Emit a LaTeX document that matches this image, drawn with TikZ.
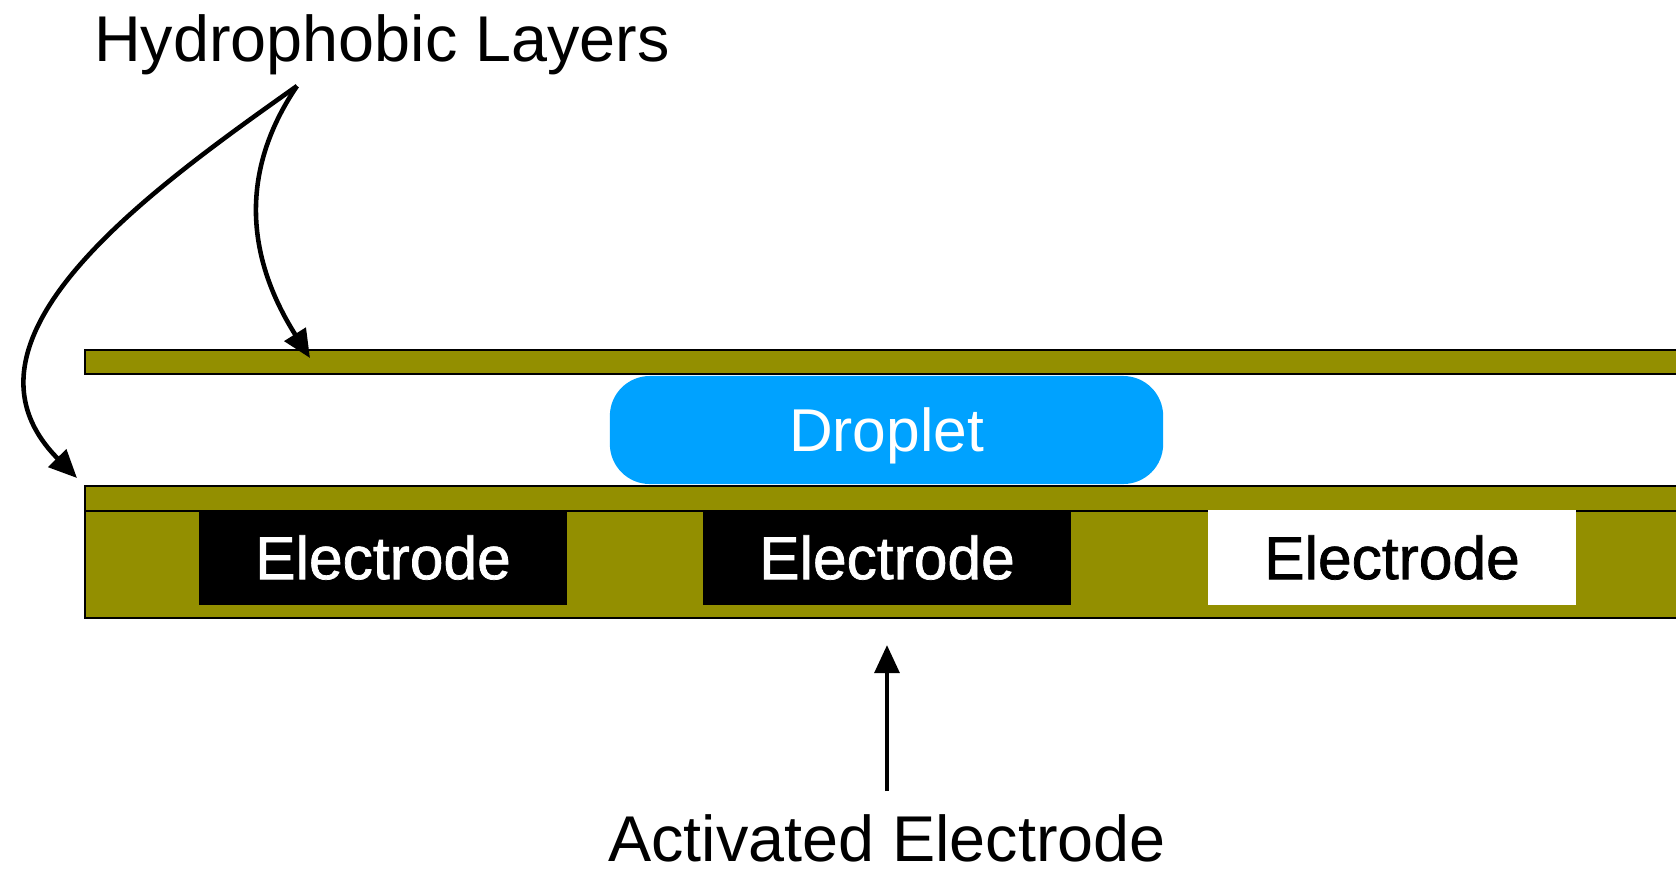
\documentclass[tikz,border=0pt]{standalone}
\usepackage{fontspec}
\setmainfont{Liberation Sans}
\newfontfamily\medfont[FakeBold=1.2]{Liberation Sans}
\usetikzlibrary{arrows.meta}
\definecolor{layerolive}{RGB}{147,143,0}
\definecolor{dropblue}{RGB}{0,162,255}

\begin{document}
\begin{tikzpicture}[x=0.01cm,y=-0.01cm,font=\fontsize{17.2}{20}\selectfont,
  layer/.style={fill=layerolive,draw=black,line width=0.6pt},
  elec/.style={minimum width=3.68cm,minimum height=0.95cm,inner sep=0pt,font=\medfont\fontsize{17.2}{20}\selectfont},
  bigtext/.style={font=\fontsize{18.4}{22}\selectfont,inner sep=0pt},
  arr/.style={line width=1.3pt,-{Triangle[length=8pt,width=7pt]}}]
  \useasboundingbox (0,0) rectangle (1676,872);
  \begin{scope}
    \clip (0,0) rectangle (1676,872);
    \filldraw[layer] (85,350) rectangle (1700,374);
    \filldraw[layer] (85,486) rectangle (1700,511);
    \filldraw[layer] (85,511) rectangle (1700,618);
  \end{scope}
  \node[elec,fill=black,text=white] (e1) at (383,557.5){Electrode};
  \node[elec,fill=black,text=white] (e2) at (887,557.5){Electrode};
  \node[elec,fill=white] (e3) at (1392,557.5){Electrode};
  \node[fill=dropblue,text=white,rounded corners=0.4cm,minimum width=5.53cm,minimum height=1.08cm,
    text depth=0pt] (drop) at (886.5,430){Droplet};
  \node[bigtext,anchor=base] (hl) at (382,61){Hydrophobic Layers};
  \node[bigtext,anchor=base] (ae) at (887,861){Activated Electrode};
  \coordinate (hlfoot) at (297,86);
  \coordinate (tophit) at (310,358);
  \coordinate (bothit) at (77,478);
  \coordinate (aefoot) at (887,791);
  \coordinate (e2foot) at (887,645);
  \draw[arr] (hlfoot) .. controls (240,170) and (245,255) .. (tophit);
  \draw[arr] (hlfoot) .. controls (150,190) and (-60,340) .. (bothit);
  \draw[arr] (aefoot) -- (e2foot);
\end{tikzpicture}
\end{document}
